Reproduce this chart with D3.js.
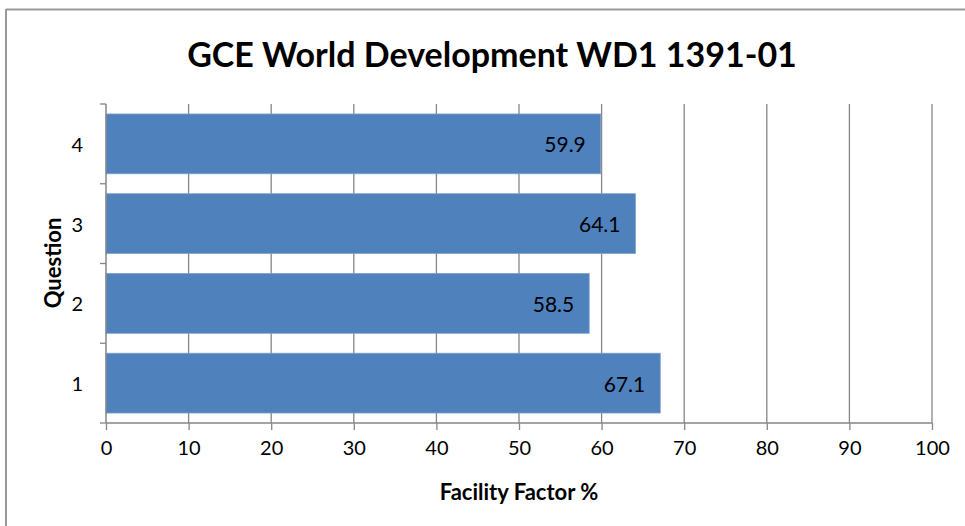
<!DOCTYPE html>
<html>
<head>
<meta charset="utf-8">
<script src="https://cdn.jsdelivr.net/npm/d3@7"></script>
<style>
  html, body { margin: 0; padding: 0; background: #fff; }
  svg { display: block; }
  text { font-family: Lato, "Open Sans", "Liberation Sans", sans-serif; fill: #000; }
</style>
</head>
<body>
<svg id="chart" width="965" height="526"></svg>
<script>
const questions = ["1", "2", "3", "4"];
const facility = [67.1, 58.5, 64.1, 59.9];
const xTicks = [0, 10, 20, 30, 40, 50, 60, 70, 80, 90, 100];
const chartTitle = "GCE World Development WD1 1391-01";
const xTitle = "Facility Factor %";
const yTitle = "Question";

const svg = d3.select("#chart");
const W = 965, H = 526;
const m = { left: 106, right: 33, top: 104, bottom: 103 };
const gridColor = "#868686";

// outer frame (top + left visible)
svg.append("line").attr("x1", 6).attr("x2", W).attr("y1", 9.5).attr("y2", 9.5)
  .attr("stroke", "#999").attr("stroke-width", 2);
svg.append("line").attr("x1", 6).attr("x2", 6).attr("y1", 9).attr("y2", H)
  .attr("stroke", "#999").attr("stroke-width", 2);

const x = d3.scaleLinear().domain([0, 100]).range([m.left, W - m.right]);
const y = d3.scaleBand().domain(questions.slice().reverse())
  .range([m.top, H - m.bottom]).paddingInner(0.25).paddingOuter(0.125);

// vertical gridlines
svg.append("g").selectAll("line").data(xTicks.filter(d => d > 0)).join("line")
  .attr("x1", d => x(d)).attr("x2", d => x(d))
  .attr("y1", m.top).attr("y2", H - m.bottom)
  .attr("stroke", gridColor).attr("stroke-width", 1.3);

// bars
const data = questions.map((q, i) => ({ q, v: facility[i] }));
svg.append("g").selectAll("rect").data(data).join("rect")
  .attr("x", x(0)).attr("y", d => y(d.q))
  .attr("width", d => x(d.v) - x(0)).attr("height", y.bandwidth())
  .attr("fill", "#4F81BD").attr("stroke", "#7FA1CC").attr("stroke-width", 0.8);

// value labels
svg.append("g").selectAll("text").data(data).join("text")
  .attr("x", d => x(d.v) - 15).attr("y", d => y(d.q) + y.bandwidth() / 2)
  .attr("text-anchor", "end").attr("dominant-baseline", "central")
  .attr("font-size", 21).text(d => d.v.toFixed(1));

// x axis
const xAxis = d3.axisBottom(x).tickValues(xTicks).tickSize(7).tickPadding(11).tickFormat(d3.format("d"));
const gx = svg.append("g").attr("transform", `translate(0,${H - m.bottom})`).call(xAxis);
gx.select(".domain").attr("stroke", gridColor).attr("stroke-width", 1.5).attr("d", `M${x(0)},0H${x(100)}`);
gx.selectAll(".tick line").attr("stroke", gridColor).attr("stroke-width", 1.3);
gx.selectAll(".tick text").attr("font-size", 20).attr("font-family", "Lato, sans-serif").attr("fill", "#000");

// y axis: ticks at band boundaries
const step = (H - m.bottom - m.top) / questions.length;
svg.append("line").attr("x1", m.left).attr("x2", m.left).attr("y1", m.top).attr("y2", H - m.bottom)
  .attr("stroke", gridColor).attr("stroke-width", 1.5);
svg.append("g").selectAll("line").data(d3.range(questions.length + 1)).join("line")
  .attr("x1", m.left - 6).attr("x2", m.left)
  .attr("y1", i => m.top + i * step).attr("y2", i => m.top + i * step)
  .attr("stroke", gridColor).attr("stroke-width", 1.3);
svg.append("g").selectAll("text").data(questions).join("text")
  .attr("x", 83).attr("y", d => y(d) + y.bandwidth() / 2)
  .attr("text-anchor", "end").attr("dominant-baseline", "central")
  .attr("font-size", 20).text(d => d);

// titles
svg.append("text").attr("x", 492).attr("y", 53).attr("text-anchor", "middle")
  .attr("dominant-baseline", "central").attr("font-size", 34).attr("font-weight", "bold")
  .text(chartTitle);
svg.append("text").attr("x", 519).attr("y", 491).attr("text-anchor", "middle")
  .attr("dominant-baseline", "central").attr("font-size", 22).attr("font-weight", "bold")
  .text(xTitle);
svg.append("text").attr("transform", "translate(52,263) rotate(-90)").attr("text-anchor", "middle")
  .attr("dominant-baseline", "central").attr("font-size", 22).attr("font-weight", "bold")
  .text(yTitle);
</script>
</body>
</html>
